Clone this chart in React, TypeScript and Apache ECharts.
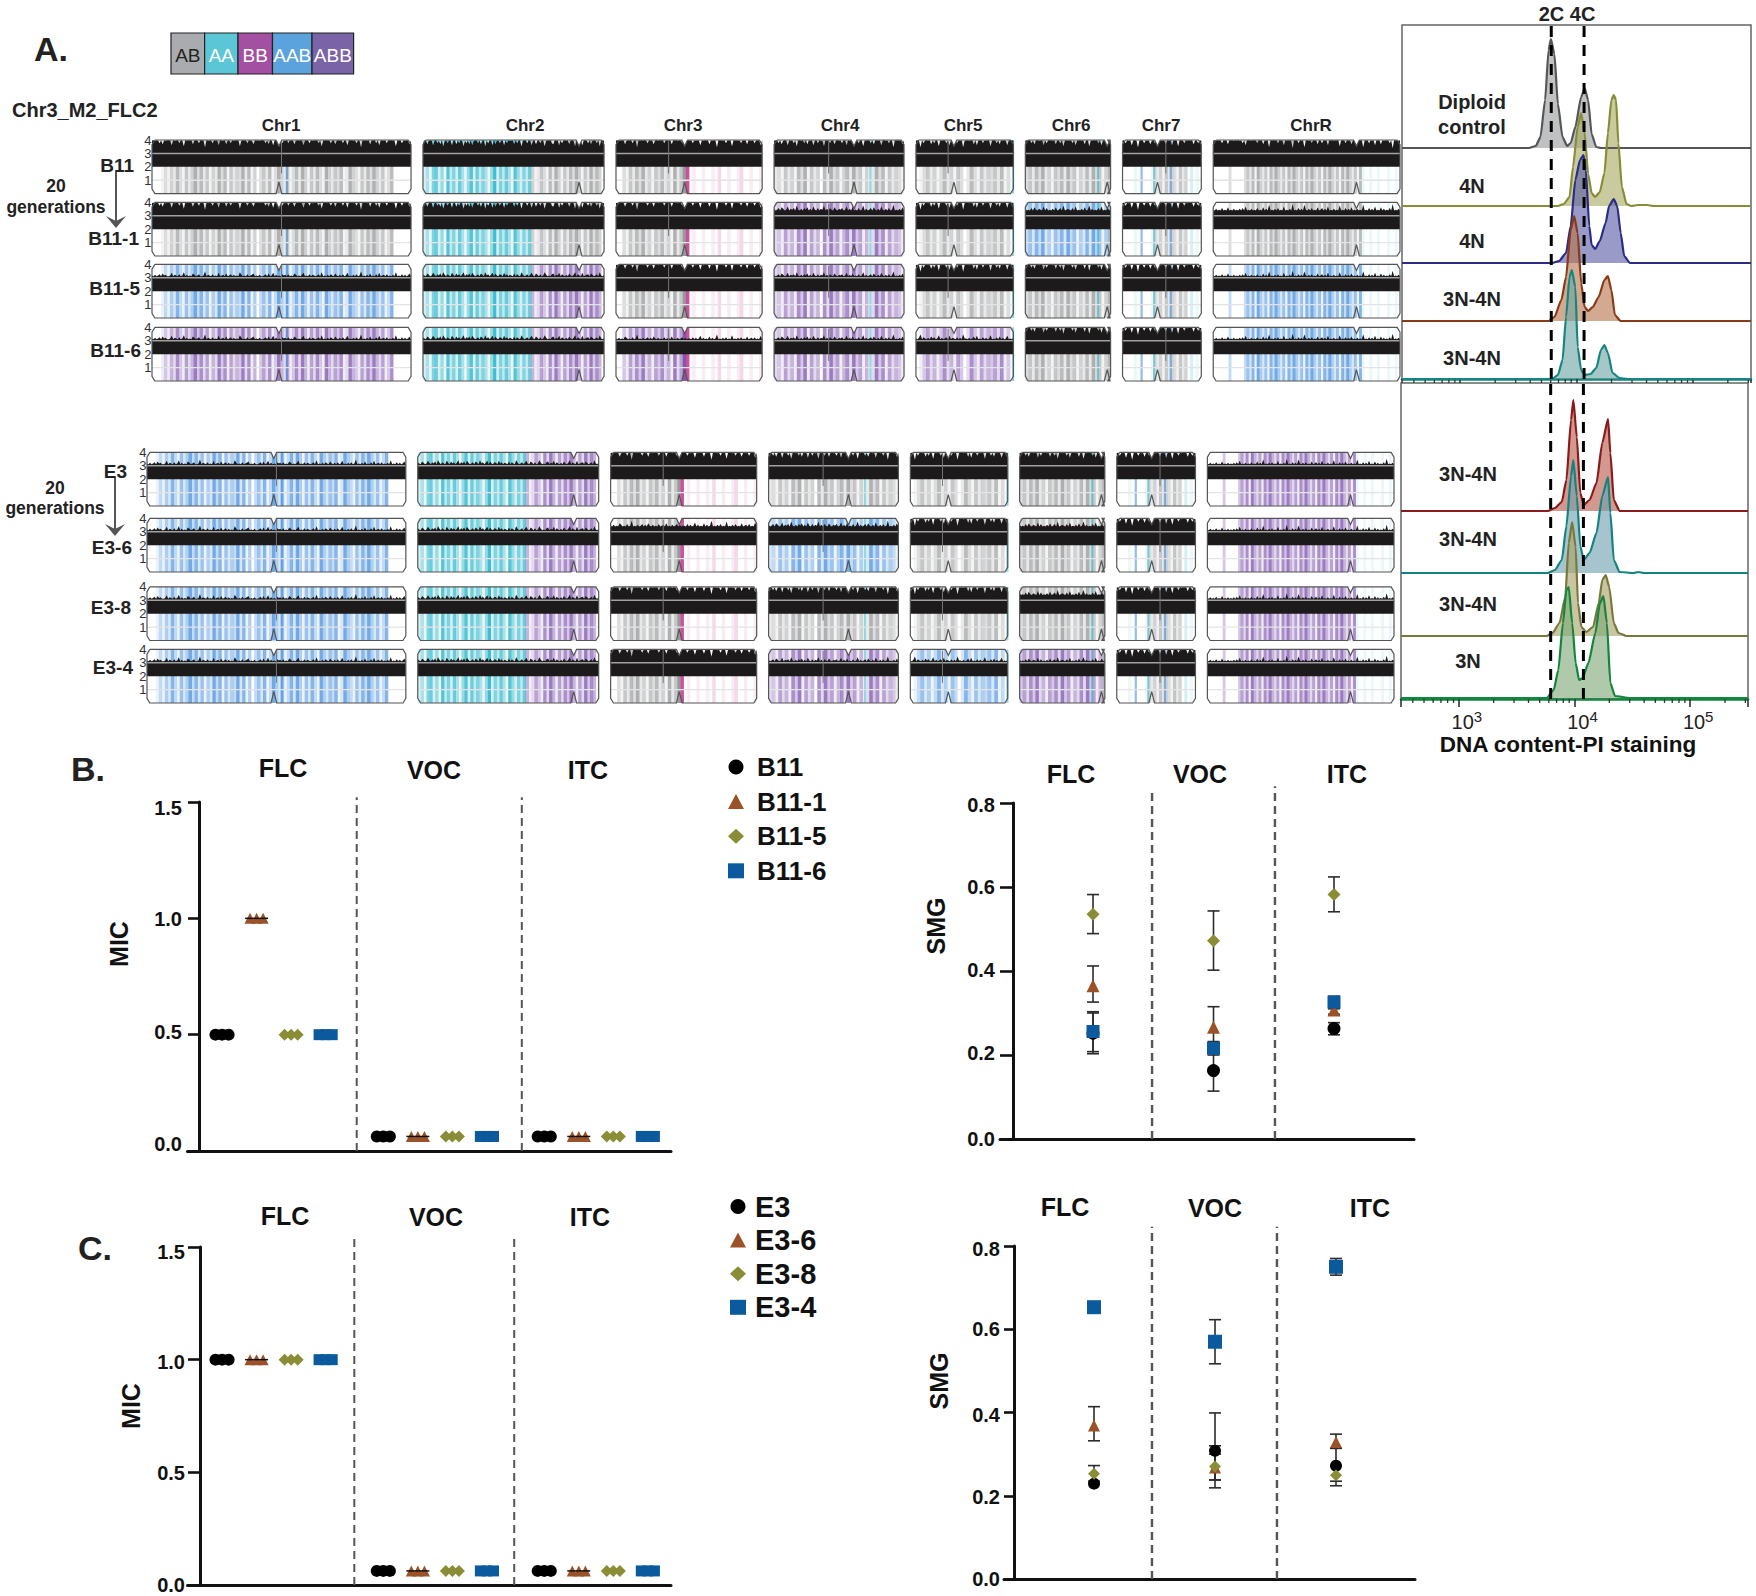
import React, { useEffect, useRef } from "react";
import * as echarts from "echarts";

const FONT = '"Liberation Sans", Arial, sans-serif';

// ---------- Panel A: genome strips ----------
const CHROMS = ["Chr1", "Chr2", "Chr3", "Chr4", "Chr5", "Chr6", "Chr7", "ChrR"];
const CHROM_MB = [3.19, 2.23, 1.8, 1.6, 1.2, 1.05, 0.97, 2.3];
const CHROM_GAP_MB = 0.147;
const CENTROMERE = [0.49, 0.862, 0.47, 0.615, 0.39, 0.96, 0.444, 0.767];
const STATE_COLOR: Record<string, string> = { AB: "#85888b", AA: "#1fb3c8", BB: "#c8308c", AAB: "#2a7fd8", ABB: "#6a3aa2" };

const STRIPES = [
  "000131426315247362514273615243726140352613742513627415263174253612743152637425136000000",
  "24167251836274158273641592637418526374125316274152637415273640",
  "0031526372415362417259901001001020010012001001",
  "2315241637152406273514627351402736152431",
  "01352413624153026315243526130",
  "352637241536273514262735142",
  "0000100000132415243152402010",
  "000000300000" + "3526174251637425163742516374251637425163742516" + "100100100010010",
];
const NOISE = [
  "1020130412001502103016020104201300170210301050120401302010620103012401020013040150201031203010420102501030210130601020310410203015010203017010204010305012030102060103020140",
  "310420152031406203105204130260314052013042061302504103205130210403106201302510420301620103402150310204102603105012304201306102",
  "10201042010301701020130204102010301204010201302011030201502010402017010203010601020301040120301050",
  "201304201502130610203140205103021602031041021301502040103016020130410205102030170102040",
  "10270310204130160201305021030207110201405010302016010304020150102",
  "201030410210503010204013060121030501020401602010305010402",
  "1030205001701030204103010210402050106010302010401302",
  "10201030104010201020305010201030104020701020301050102080103020710203010401302050102010601030204010201070103020501040201030801020",
];
const OVERLAY_LINES: [number, string][][] = [
  [[0.52, "AAB"]], [], [], [[0.74, "AA"]], [[0.995, "AA"]], [[0.85, "AA"], [0.98, "AB"]],
  [[0.24, "AAB"], [0.4, "AA"], [0.61, "AAB"]], [],
];
const SPIKES: number[][] = [[0.5], [], [0.36], [0.42], [0.33], [], [0.55], []];

const C2AB = [[0, 0.6, "AA"], [0.6, 1, "AB"]];
const C2ABB = [[0, 0.6, "AA"], [0.6, 1, "ABB"]];
const C3 = [[0, 0.47, "AB"], [0.47, 1, "BB"]];
const C3V = [[0, 0.47, "ABB"], [0.47, 1, "BB"]];
const C7 = [[0, 0.37, "AA"], [0.37, 0.83, "AB"], [0.83, 1, "AA"]];
const RAB = [[0, 0.79, "AB"], [0.79, 1, "AA"]];
const RAAB = [[0, 0.79, "AAB"], [0.79, 1, "AA"]];
const RABB = [[0, 0.79, "ABB"], [0.79, 1, "AA"]];

const STATES_B: any[][] = [
  ["AB", C2AB, C3, "AB", "AB", "AB", C7, RAB],
  ["AB", C2AB, C3, "ABB", "AB", "AAB", C7, RAB],
  ["AAB", C2ABB, C3, "ABB", "AB", "AB", C7, RAAB],
  ["ABB", C2ABB, C3V, "ABB", "ABB", "AB", C7, RAAB],
];
const STATES_E: any[][] = [
  ["AAB", C2ABB, C3, "AB", "AB", "AB", C7, RABB],
  ["AAB", C2ABB, C3, "AAB", "AB", "AB", C7, RABB],
  ["AAB", C2ABB, C3, "AB", "AB", "AB", C7, RABB],
  ["AAB", C2ABB, C3, "ABB", "AAB", "ABB", C7, RABB],
];
const NOISE_B = ["HHHHHHHH", "HHHMHMHM", "LLHLHHHL", "LLLLLHHL"];
const NOISE_E = ["LLHHHHHL", "LLMMHMHL", "LLHHHMHL", "LLHLLLHL"];

const BLOCK_B = { left: 152, right: 1400, top: 140, bottom: 381, rows: [193.6, 256, 318, 381], states: STATES_B, noise: NOISE_B };
const BLOCK_E = { left: 147, right: 1394, top: 452, bottom: 703, rows: [506, 572, 640.5, 703], states: STATES_E, noise: NOISE_E };
const PLOIDY_PX = 13.4;
const PLOIDY_TICKS = [4, 3, 2, 1];

// ---------- Panel A: flow histograms, [log10 intensity, height] ----------
const H_DIPLOID = [[3.59,0],[3.65,2],[3.69,11],[3.73,48],[3.76,98],[3.78,109],[3.81,94],[3.84,44],[3.88,11],[3.92,2],[3.95,5],[3.99,21],[4.04,51],[4.07,60],[4.1,48],[4.13,14],[4.17,1],[4.21,0]];
const H_4N_A = [[3.84,0],[3.89,2],[3.94,9],[3.97,39],[4.01,79],[4.04,93],[4.07,73],[4.1,32],[4.13,13],[4.16,9],[4.2,14],[4.24,33],[4.27,73],[4.3,106],[4.32,111],[4.34,106],[4.36,63],[4.39,19],[4.43,2],[4.47,0],[4.53,1],[4.61,1],[4.66,0]];
const H_4N_B = [[3.79,0],[3.85,2],[3.91,10],[3.95,37],[3.99,83],[4.03,103],[4.06,108],[4.08,93],[4.11,37],[4.13,18],[4.16,14],[4.2,22],[4.25,40],[4.28,57],[4.32,64],[4.35,57],[4.38,30],[4.41,7],[4.46,0]];
const H_BROWN = [[3.76,0],[3.81,4],[3.87,21],[3.91,44],[3.95,91],[3.98,105],[4.01,88],[4.04,38],[4.07,14],[4.1,10],[4.14,14],[4.19,24],[4.24,41],[4.27,45],[4.3,31],[4.33,6],[4.38,0],[4.47,0]];
const H_TEAL_A = [[3.79,0],[3.84,4],[3.88,19],[3.91,62],[3.94,102],[3.96,109],[3.99,92],[4.01,32],[4.04,9],[4.07,4],[4.12,5],[4.17,11],[4.21,29],[4.24,34],[4.27,26],[4.31,6],[4.37,1],[4.44,0]];
const H_RED = [[3.77,0],[3.83,3],[3.89,9],[3.93,31],[3.97,91],[3.99,111],[4.02,74],[4.05,18],[4.08,6],[4.13,11],[4.19,28],[4.24,68],[4.29,92],[4.31,58],[4.34,11],[4.39,0]];
const H_TEAL_B = [[3.77,0],[3.83,3],[3.89,13],[3.93,47],[3.97,97],[3.99,113],[4.02,77],[4.05,27],[4.08,13],[4.13,20],[4.19,40],[4.24,77],[4.29,96],[4.31,60],[4.34,13],[4.39,1],[4.51,0],[4.55,1],[4.6,0]];
const H_OLIVE = [[3.76,0],[3.81,3],[3.87,13],[3.92,39],[3.95,93],[3.98,114],[4.01,89],[4.03,33],[4.06,9],[4.1,4],[4.16,9],[4.21,33],[4.24,56],[4.27,61],[4.3,49],[4.34,13],[4.38,3],[4.45,0]];
const H_GREEN = [[3.76,0],[3.82,8],[3.86,28],[3.9,75],[3.93,108],[3.95,111],[3.98,75],[4.01,35],[4.04,18],[4.07,20],[4.12,35],[4.18,65],[4.22,95],[4.25,102],[4.28,75],[4.31,15],[4.35,2],[4.48,0]];

const FLOW_TOP = [
  { h: H_DIPLOID, base: 231, line: "#555658", fill: "#9a9b9d" },
  { h: H_4N_A, base: 173, line: "#878c36", fill: "#a8ab62" },
  { h: H_4N_B, base: 116, line: "#2a2c86", fill: "#5c5ca8" },
  { h: H_BROWN, base: 58, line: "#8a3a16", fill: "#b5764e" },
  { h: H_TEAL_A, base: 0, line: "#14867f", fill: "#6fa5a5" },
];
const FLOW_BOTTOM = [
  { h: H_RED, base: 188, line: "#8b1a1a", fill: "#b85a48" },
  { h: H_TEAL_B, base: 126, line: "#14837f", fill: "#6d9fae" },
  { h: H_OLIVE, base: 63, line: "#78783c", fill: "#a8a266" },
  { h: H_GREEN, base: 1, line: "#12853f", fill: "#7fa878" },
];
const FLOW_MINOR = [400, 500, 600, 700, 800, 900, 2000, 3000, 4000, 5000, 6000, 7000, 8000, 9000, 20000, 30000, 40000, 50000, 60000, 70000, 80000, 90000, 200000, 300000];
const PLOIDY_TOP = [["Diploid", 102], ["control", 127], ["4N", 186], ["4N", 241], ["3N-4N", 299], ["3N-4N", 358]];
const PLOIDY_BOTTOM = [["3N-4N", 474], ["3N-4N", 539], ["3N-4N", 604], ["3N", 661]];

// ---------- Panels B, C ----------
const DRUGS = ["FLC", "VOC", "ITC"];
const SYMBOLS = ["circle", "triangle", "diamond", "rect"];
const COLORS = ["#000000", "#9c5228", "#8a8d36", "#0b5a9e"];
const STRAINS_B = ["B11", "B11-1", "B11-5", "B11-6"];
const STRAINS_C = ["E3", "E3-6", "E3-8", "E3-4"];
const MIC_SLOTS = [[0, 1, 2, 3], [4.67, 5.67, 6.67, 7.67], [9.33, 10.33, 11.33, 12.33]];
const REPLICATE_OFFSETS = [-0.19, 0, 0.19];
const MIC_B = [[0.5, 0.0625, 0.0625], [1, 0.0625, 0.0625], [0.5, 0.0625, 0.0625], [0.5, 0.0625, 0.0625]];
const MIC_C = [[1, 0.0625, 0.0625], [1, 0.0625, 0.0625], [1, 0.0625, 0.0625], [1, 0.0625, 0.0625]];

const SMG_B_MEAN = [[0.252, 0.163, 0.263], [0.365, 0.266, 0.307], [0.535, 0.472, 0.582], [0.256, 0.216, 0.326]];
const SMG_B_LOW = [[0.203, 0.114, 0.248], [0.326, 0.222, 0.297], [0.489, 0.402, 0.541], [0.208, 0.2, 0.31]];
const SMG_B_HIGH = [[0.3, 0.21, 0.277], [0.412, 0.315, 0.32], [0.582, 0.543, 0.624], [0.303, 0.232, 0.34]];
const SMG_C_MEAN = [[0.229, 0.308, 0.272], [0.369, 0.268, 0.329], [0.253, 0.27, 0.249], [0.653, 0.57, 0.75]];
const SMG_C_LOW = [[0.229, 0.238, 0.235], [0.332, 0.238, 0.314], [0.235, 0.219, 0.224], [0.653, 0.517, 0.73]];
const SMG_C_HIGH = [[0.229, 0.399, 0.314], [0.414, 0.3, 0.348], [0.2725, 0.32, 0.272], [0.653, 0.623, 0.77]];

// ---------- helpers ----------
function chromStarts() {
  const s: number[] = [];
  let x = 0;
  CHROM_MB.forEach((l) => { s.push(x); x += l + CHROM_GAP_MB; });
  return { starts: s, total: x - CHROM_GAP_MB };
}
const { starts: CHROM_START, total: GENOME_TOTAL } = chromStarts();

function stateAt(spec: any, f: number): string {
  if (typeof spec === "string") return spec;
  for (const s of spec) if (f >= s[0] && f <= s[1]) return s[2];
  return "AB";
}
function rowBase(block: any, r: number) {
  return (block.bottom - block.rows[r]) / PLOIDY_PX;
}
function noiseTop(mode: string, d: number) {
  if (mode === "H") return d < 3 ? 3.98 - d * 0.02 : 3.98 - d * 0.075;
  if (mode === "M") return 3.4 + d * 0.06;
  return 3.12 + d * 0.05;
}

function blockSeries(block: any, gridIndex: number) {
  const stripeData: any[] = [];
  const cells: number[][] = [];
  block.states.forEach((row: any[], r: number) => {
    row.forEach((spec: any, c: number) => {
      cells.push([c, r]);
      const digits = STRIPES[c];
      for (let i = 0; i < digits.length; i++) {
        const d = Number(digits[i]);
        if (!d) continue;
        const f0 = i / digits.length, f1 = (i + 1) / digits.length;
        const st = stateAt(spec, (f0 + f1) / 2);
        stripeData.push([CHROM_START[c] + f0 * CHROM_MB[c], CHROM_START[c] + f1 * CHROM_MB[c], rowBase(block, r), d / 9, Object.keys(STATE_COLOR).indexOf(st)]);
      }
      OVERLAY_LINES[c].forEach(([f, st]) => {
        const x = CHROM_START[c] + f * CHROM_MB[c];
        stripeData.push([x - 0.012, x + 0.012, rowBase(block, r), 0.6, Object.keys(STATE_COLOR).indexOf(st)]);
      });
    });
  });
  const base = { type: "custom", coordinateSystem: "cartesian2d", xAxisIndex: gridIndex, yAxisIndex: gridIndex, silent: true };
  const stripes = {
    ...base,
    data: stripeData,
    renderItem: (_: any, api: any) => {
      const p0 = api.coord([api.value(0), api.value(2) + 4]);
      const p1 = api.coord([api.value(1), api.value(2)]);
      return {
        type: "rect",
        shape: { x: p0[0], y: p0[1], width: p1[0] - p0[0] + 0.3, height: p1[1] - p0[1] },
        style: { fill: STATE_COLOR[Object.keys(STATE_COLOR)[api.value(4)]], opacity: api.value(3) * 0.85 },
      };
    },
  };
  const body = {
    ...base,
    data: cells,
    renderItem: (_: any, api: any) => {
      const c = api.value(0), r = api.value(1);
      const b = rowBase(block, r);
      const x0 = CHROM_START[c], len = CHROM_MB[c], digits = NOISE[c];
      const mode = block.noise[r][c];
      const pts: number[][] = [api.coord([x0, b + 2])];
      for (let i = 0; i < digits.length; i++) {
        pts.push(api.coord([x0 + (i / (digits.length - 1)) * len, b + noiseTop(mode, Number(digits[i]))]));
      }
      pts.push(api.coord([x0 + len, b + 2]));
      const cx = x0 + CENTROMERE[c] * len;
      const e = 0.035;
      const x1 = x0 + len;
      const outline = [
        [x0 + e, b + 4], [cx - e, b + 4], [cx, b + 3.55], [cx + e, b + 4], [x1 - e, b + 4], [x1, b + 3.65], [x1, b + 0.35], [x1 - e, b],
        [cx + e, b], [cx, b + 0.85], [cx - e, b], [x0 + e, b], [x0, b + 0.35], [x0, b + 3.65], [x0 + e, b + 4],
      ].map((p) => api.coord(p));
      const notch = [[cx - e, b + 4.02], [cx, b + 3.55], [cx + e, b + 4.02]].map((p) => api.coord(p));
      const hline = (y: number) => [api.coord([x0, b + y]), api.coord([x1, b + y])];
      const kids: any[] = [
        { type: "polyline", shape: { points: hline(1) }, style: { stroke: "#e4e4e6", lineWidth: 1.4, fill: "none" } },
        { type: "polygon", shape: { points: pts }, style: { fill: "#1c1a1b" } },
        { type: "polygon", shape: { points: notch }, style: { fill: "#ffffff" } },
        { type: "polyline", shape: { points: hline(3) }, style: { stroke: "#a2a2a2", lineWidth: 1.5, fill: "none" } },
        { type: "polyline", shape: { points: outline }, style: { stroke: "#555555", lineWidth: 1.2, fill: "none" } },
      ];
      SPIKES[c].forEach((f) => {
        const sx = x0 + f * len;
        kids.push({ type: "polyline", shape: { points: [api.coord([sx, b + 3.9]), api.coord([sx, b + 1.5])] }, style: { stroke: "#777777", lineWidth: 1, fill: "none" } });
      });
      if (c === 0) {
        PLOIDY_TICKS.forEach((p) => {
          const q = api.coord([x0, b + p]);
          kids.push({
            type: "text", x: q[0] - 0.5, y: q[1],
            style: { text: String(p), fontSize: 13, fontFamily: FONT, fill: "#333333", align: "right", verticalAlign: "middle", textAlign: "right", textVerticalAlign: "middle" },
          });
        });
      }
      return { type: "group", children: kids };
    },
  };
  return [stripes, body];
}

function flowSeries(curves: any[], gridIndex: number, yMax: number, dashes: number[], tickLen: number) {
  const out: any[] = [];
  curves.forEach((c) => {
    out.push({
      type: "line", xAxisIndex: gridIndex, yAxisIndex: gridIndex, silent: true,
      smooth: 0.2, smoothMonotone: "x", showSymbol: false, symbol: "none",
      lineStyle: { color: c.line, width: 2.2 },
      areaStyle: { color: c.fill, opacity: 0.62, origin: c.base },
      data: [[10 ** 2.5, c.base], ...c.h.map((p: number[]) => [10 ** p[0], c.base + p[1]]), [10 ** 5.5, c.base]],
    });
  });
  dashes.forEach((l) => {
    out.push({
      type: "line", xAxisIndex: gridIndex, yAxisIndex: gridIndex, silent: true, showSymbol: false, symbol: "none",
      lineStyle: { color: "#000000", width: 3, type: [11, 8] },
      data: [[10 ** l, 0], [10 ** l, yMax]],
    });
  });
  out.push({
    type: "custom", coordinateSystem: "cartesian2d", xAxisIndex: gridIndex, yAxisIndex: gridIndex, silent: true,
    data: FLOW_MINOR.map((v) => [v, 0]),
    renderItem: (_: any, api: any) => {
      const p = api.coord([api.value(0), 0]);
      return { type: "line", shape: { x1: p[0], y1: p[1], x2: p[0], y2: p[1] + tickLen }, style: { stroke: "#333333", lineWidth: 1.3 } };
    },
  });
  return out;
}

function micSeries(names: string[], vals: number[][], gridIndex: number, dividers: number[], divTop: number) {
  const out: any[] = [];
  dividers.forEach((d) => {
    out.push({
      type: "line", xAxisIndex: gridIndex, yAxisIndex: gridIndex, silent: true, clip: false, showSymbol: false, symbol: "none",
      lineStyle: { color: "#555555", width: 2, type: [8, 5] }, data: [[d, 0], [d, divTop]],
    });
  });
  names.forEach((n, s) => {
    const data: number[][] = [];
    DRUGS.forEach((_, d) => REPLICATE_OFFSETS.forEach((o) => data.push([MIC_SLOTS[d][s] + o, vals[s][d]])));
    out.push({
      name: n, type: "scatter", xAxisIndex: gridIndex, yAxisIndex: gridIndex, silent: true,
      symbol: SYMBOLS[s], symbolSize: s === 1 ? 11 : s === 3 ? 11 : 12, itemStyle: { color: COLORS[s], opacity: 1 }, data,
    });
    if (s === 1) {
      out.push({
        type: "scatter", xAxisIndex: gridIndex, yAxisIndex: gridIndex, silent: true, symbol: "rect", symbolSize: [23, 1.5],
        itemStyle: { color: "#111111", opacity: 1 }, data: DRUGS.map((_, d) => [MIC_SLOTS[d][s], vals[s][d]]),
      });
    }
  });
  return out;
}

function smgSeries(names: string[], mean: number[][], low: number[][], high: number[][], gridIndex: number, dividers: number[], divTops: number[], sizes: number[]) {
  const out: any[] = [];
  dividers.forEach((d, i) => {
    out.push({
      type: "line", xAxisIndex: gridIndex, yAxisIndex: gridIndex, silent: true, clip: false, showSymbol: false, symbol: "none",
      lineStyle: { color: "#555555", width: 2.4, type: [8, 5] }, data: [[d, 0], [d, divTops[i]]],
    });
  });
  const err: number[][] = [];
  names.forEach((_, s) => DRUGS.forEach((__, d) => {
    if (low[s][d] !== high[s][d]) err.push([d, low[s][d], high[s][d]]);
  }));
  out.push({
    type: "custom", coordinateSystem: "cartesian2d", xAxisIndex: gridIndex, yAxisIndex: gridIndex, silent: true, data: err,
    renderItem: (_: any, api: any) => {
      const a = api.coord([api.value(0), api.value(1)]);
      const b = api.coord([api.value(0), api.value(2)]);
      const st = { stroke: "#2b2b2b", lineWidth: 1.6 };
      return {
        type: "group",
        children: [
          { type: "line", shape: { x1: a[0], y1: a[1], x2: b[0], y2: b[1] }, style: st },
          { type: "line", shape: { x1: a[0] - 6, y1: a[1], x2: a[0] + 6, y2: a[1] }, style: st },
          { type: "line", shape: { x1: b[0] - 6, y1: b[1], x2: b[0] + 6, y2: b[1] }, style: st },
        ],
      };
    },
  });
  names.forEach((n, s) => {
    out.push({
      name: n, type: "scatter", xAxisIndex: gridIndex, yAxisIndex: gridIndex, silent: true,
      symbol: SYMBOLS[s], symbolSize: sizes[s], itemStyle: { color: COLORS[s], opacity: 1 },
      data: DRUGS.map((_, d) => [d, mean[s][d]]),
    });
  });
  return out;
}

function txt(text: string, x: number, y: number, size: number, opt: any = {}) {
  return {
    type: "text", x, y, rotation: opt.rotation || 0, silent: true,
    style: {
      text, fontSize: size, fontFamily: FONT, fontWeight: opt.weight || "bold", fill: opt.fill || "#111111",
      align: opt.align || "center", verticalAlign: "middle", textAlign: opt.align || "center", textVerticalAlign: "middle",
    },
  };
}

function arrow(x: number, y0: number, y1: number) {
  return [
    { type: "line", silent: true, shape: { x1: x, y1: y0, x2: x, y2: y1 - 3 }, style: { stroke: "#555555", lineWidth: 2 } },
    { type: "polygon", silent: true, shape: { points: [[x - 10, y1 - 12], [x, y1 - 7], [x + 10, y1 - 12], [x, y1]] }, style: { fill: "#555555" } },
  ];
}

function buildOption() {
  const grid = [
    { left: BLOCK_B.left, top: BLOCK_B.top, width: BLOCK_B.right - BLOCK_B.left, height: BLOCK_B.bottom - BLOCK_B.top },
    { left: BLOCK_E.left, top: BLOCK_E.top, width: BLOCK_E.right - BLOCK_E.left, height: BLOCK_E.bottom - BLOCK_E.top },
    { left: 1402, top: 25, width: 349, height: 354, show: true, borderColor: "#666666", borderWidth: 1.5, backgroundColor: "transparent" },
    { left: 1401, top: 383, width: 347, height: 316, show: true, borderColor: "#666666", borderWidth: 1.5, backgroundColor: "transparent" },
    { left: 187.5, top: 802, width: 483.5, height: 349 },
    { left: 187.5, top: 1247, width: 483.5, height: 338 },
    { left: 1000, top: 803, width: 414, height: 336 },
    { left: 1004, top: 1246, width: 411, height: 333 },
  ];
  const hiddenX = (min: number, max: number, idx: number) => ({ type: "value", gridIndex: idx, min, max, show: false });
  const hiddenY = (min: number, max: number, idx: number) => ({ type: "value", gridIndex: idx, min, max, show: false });
  const logX = (idx: number, color: string, labels: boolean, tick: number) => ({
    type: "log", logBase: 10, gridIndex: idx, min: 10 ** 2.5, max: 10 ** 5.5,
    splitLine: { show: false }, minorTick: { show: false },
    axisLine: { show: true, onZero: false, lineStyle: { color, width: 2.5 } },
    axisTick: { show: true, length: tick, lineStyle: { color: "#333333", width: 1.6 } },
    axisLabel: {
      show: labels, margin: 10, hideOverlap: false,
      formatter: (v: number) => {
        const e = Math.log10(v);
        return Math.abs(e - Math.round(e)) < 1e-6 ? `{b|10}{s|${Math.round(e)}}` : "";
      },
      rich: {
        b: { fontSize: 20, fontFamily: FONT, color: "#222222", padding: [0, 0, 0, 16] },
        s: { fontSize: 15, fontFamily: FONT, color: "#222222", padding: [0, 0, 10, 0] },
      },
    },
  });
  const statX = (idx: number, min: number, max: number) => ({
    type: "value", gridIndex: idx, min, max,
    axisLine: { show: true, onZero: false, lineStyle: { color: "#111111", width: 3 } },
    axisTick: { show: false }, axisLabel: { show: false }, splitLine: { show: false },
  });
  const statY = (idx: number, max: number, interval: number, offset: number, tick: number, margin: number, nudges: Record<string, number>) => {
    const rich: any = {};
    Object.keys(nudges).forEach((k, i) => {
      const n = nudges[k];
      rich["n" + i] = {
        fontSize: 20, fontWeight: "bold", fontFamily: FONT, color: "#111111",
        padding: n >= 0 ? [n * 2, 0, 0, 0] : [0, 0, -n * 2, 0],
      };
    });
    return {
      type: "value", gridIndex: idx, min: 0, max, interval, offset,
      axisLine: { show: true, onZero: false, lineStyle: { color: "#111111", width: 3 } },
      axisTick: { show: true, length: tick, lineStyle: { color: "#111111", width: 2.6 } },
      axisLabel: {
        margin, rich,
        formatter: (v: number) => {
          const s = v.toFixed(1);
          return `{n${Object.keys(nudges).indexOf(s)}|${s}}`;
        },
      },
      splitLine: { show: false },
    };
  };
  const xAxis = [
    hiddenX(0, GENOME_TOTAL, 0), hiddenX(0, GENOME_TOTAL, 1),
    logX(2, "#14867f", false, 4), logX(3, "#12853f", true, 8),
    statX(4, -1, 13), statX(5, -1, 13),
    statX(6, -0.772, 2.664), statX(7, -0.744, 2.653),
  ];
  const yAxis = [
    hiddenY(0, (BLOCK_B.bottom - BLOCK_B.top) / PLOIDY_PX, 0),
    hiddenY(0, (BLOCK_E.bottom - BLOCK_E.top) / PLOIDY_PX, 1),
    hiddenY(0, 354, 2), hiddenY(0, 316, 3),
    statY(4, 1.5, 0.5, -11.5, 11, 17, { "1.5": 6, "1.0": 1, "0.5": -3, "0.0": -7 }),
    statY(5, 1.5, 0.5, -12.5, 12, 15, { "1.5": 5, "1.0": 2, "0.5": 1, "0.0": 0 }),
    statY(6, 0.8, 0.2, -13, 13, 18, { "0.8": 2, "0.6": 0, "0.4": -1, "0.2": -2, "0.0": 0 }),
    statY(7, 0.8, 0.2, -10, 10, 14, { "0.8": 3, "0.6": 0, "0.4": 2, "0.2": 1, "0.0": 0 }),
  ];
  const series: any[] = [
    ...blockSeries(BLOCK_B, 0),
    ...blockSeries(BLOCK_E, 1),
    ...flowSeries(FLOW_TOP, 2, 354, [3.783, 4.065], 4),
    ...flowSeries(FLOW_BOTTOM, 3, 316, [3.794, 4.077], 4),
    ...micSeries(STRAINS_B, MIC_B, 4, [3.9, 8.68], 1.52),
    ...micSeries(STRAINS_C, MIC_C, 5, [3.83, 8.46], 1.544),
    ...smgSeries(STRAINS_B, SMG_B_MEAN, SMG_B_LOW, SMG_B_HIGH, 6, [0.49, 1.51], [0.834, 0.84], [13, 13, 13, 13]),
    ...smgSeries(STRAINS_C, SMG_C_MEAN, SMG_C_LOW, SMG_C_HIGH, 7, [0.479, 1.512], [0.846, 0.846], [12, 12, 12, 14]),
  ];

  const labelColor = "#222222";
  const legendCells = [
    ["AB", 171, 33.6, "#a9abae", "#222222"], ["AA", 204.6, 33.4, "#5bc6d6", "#ffffff"], ["BB", 238, 34.5, "#a34fa2", "#ffffff"],
    ["AAB", 272.5, 39.5, "#5ba3dd", "#ffffff"], ["ABB", 312, 41.6, "#7b63a8", "#ffffff"],
  ];
  const graphic: any[] = [
    ...legendCells.map((c: any) => ({ type: "rect", silent: true, shape: { x: c[1], y: 33, width: c[2], height: 41 }, style: { fill: c[3], stroke: "#222222", lineWidth: 1.2 } })),
    ...legendCells.map((c: any) => txt(c[0], c[1] + c[2] / 2, 55, 19, { weight: "normal", fill: c[4] })),
    txt("A.", 34, 49, 34, { align: "left", fill: labelColor }),
    txt("B.", 71, 769, 34, { align: "left", fill: labelColor }),
    txt("C.", 78, 1248, 34, { align: "left", fill: labelColor }),
    txt("Chr3_M2_FLC2", 12, 110, 20, { align: "left", fill: labelColor }),
    ...CHROMS.map((c, i) => txt(c, [281, 525, 683, 840, 963, 1071, 1161, 1311][i], 125.5, 17, { fill: labelColor })),
    txt("B11", 134, 165, 19, { align: "right", fill: labelColor }),
    txt("B11-1", 139, 238, 19, { align: "right", fill: labelColor }),
    txt("B11-5", 140, 288, 19, { align: "right", fill: labelColor }),
    txt("B11-6", 141, 350, 19, { align: "right", fill: labelColor }),
    txt("E3", 127, 471, 19, { align: "right", fill: labelColor }),
    txt("E3-6", 132, 547, 19, { align: "right", fill: labelColor }),
    txt("E3-8", 131, 607, 19, { align: "right", fill: labelColor }),
    txt("E3-4", 133, 667, 19, { align: "right", fill: labelColor }),
    txt("20", 56, 186, 17.5, { fill: labelColor }),
    txt("generations", 56, 207, 17.5, { fill: labelColor }),
    txt("20", 55, 488, 17.5, { fill: labelColor }),
    txt("generations", 55, 508, 17.5, { fill: labelColor }),
    ...arrow(116, 172, 228),
    ...arrow(115, 478, 536),
    txt("2C 4C", 1567, 14, 20, { fill: labelColor }),
    ...PLOIDY_TOP.map((p: any) => txt(p[0], 1472, p[1], 20, { fill: labelColor })),
    ...PLOIDY_BOTTOM.map((p: any) => txt(p[0], 1468, p[1], 20, { fill: labelColor })),
    txt("DNA content-PI staining", 1568, 744, 22.5, { fill: "#111111" }),
    txt(DRUGS[0], 283, 768, 25), txt(DRUGS[1], 434, 770, 25), txt(DRUGS[2], 588, 770, 25),
    txt(DRUGS[0], 285, 1216, 25), txt(DRUGS[1], 436, 1217, 25), txt(DRUGS[2], 590, 1217, 25),
    txt(DRUGS[0], 1071, 774, 25), txt(DRUGS[1], 1200, 774, 25), txt(DRUGS[2], 1347, 774, 25),
    txt(DRUGS[0], 1065, 1207, 25), txt(DRUGS[1], 1215, 1208, 25), txt(DRUGS[2], 1370, 1208, 25),
    txt("MIC", 119, 944, 25, { rotation: Math.PI / 2 }),
    txt("MIC", 131, 1406, 25, { rotation: Math.PI / 2 }),
    txt("SMG", 936, 926, 25, { rotation: Math.PI / 2 }),
    txt("SMG", 939, 1381, 25, { rotation: Math.PI / 2 }),
  ];
  const legend = [
    {
      left: 723, top: 749, orient: "vertical", itemGap: 8.6, itemWidth: 16, itemHeight: 15, selectedMode: false,
      textStyle: { fontSize: 26, fontWeight: "bold", fontFamily: FONT, color: "#111111", padding: [0, 0, 0, 8] },
      data: STRAINS_B.map((n, i) => ({ name: n, icon: SYMBOLS[i] })),
    },
    {
      left: 725, top: 1187, orient: "vertical", itemGap: 4.6, itemWidth: 16, itemHeight: 15, selectedMode: false,
      textStyle: { fontSize: 29, fontWeight: "bold", fontFamily: FONT, color: "#111111", padding: [0, 0, 0, 4] },
      data: STRAINS_C.map((n, i) => ({ name: n, icon: SYMBOLS[i] })),
    },
  ];
  return { animation: false, backgroundColor: "#ffffff", grid, xAxis, yAxis, series, graphic, legend };
}

export default function App() {
  const ref = useRef<HTMLDivElement>(null);
  useEffect(() => {
    const chart = echarts.init(ref.current as HTMLDivElement, undefined, { renderer: "svg", width: 1756, height: 1596 });
    chart.setOption(buildOption() as any);
    return () => chart.dispose();
  }, []);
  return <div ref={ref} style={{ position: "absolute", left: 0, top: 0, width: 1756, height: 1596 }} />;
}
